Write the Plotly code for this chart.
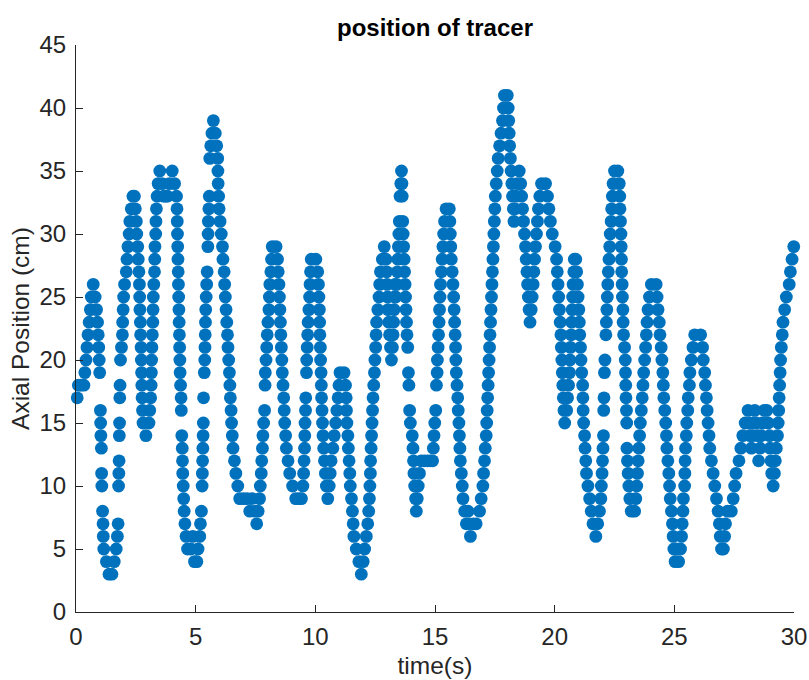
import plotly.graph_objects as go

# ---- data: tracer axial position (cm) vs time (s) ----
t_00_05 = [0.05,0.10,0.20,0.33,0.37,0.42,0.46,0.50,0.55,0.60,0.64,0.72,
           0.80,0.86,0.90,0.93,0.95,0.97,0.99,1.02,1.03,1.04,1.06,1.07,1.08,1.11,1.13,1.14,1.16,1.27,1.38,1.50,
           1.60,1.68,1.73,1.76,1.78,1.79,1.80,1.81,1.82,1.83,1.84,1.86,1.90,1.94,1.95,1.97,1.99,2.03,2.10,2.13,2.17,2.22,2.25,2.31,2.38,
           2.44,2.48,2.52,2.54,2.58,2.60,2.63,2.65,2.66,2.67,2.69,2.70,2.72,2.73,2.74,2.75,2.76,2.78,2.80,2.92,
           3.05,3.08,3.12,3.14,3.15,3.16,3.17,3.19,3.21,3.22,3.23,3.25,3.28,3.29,3.30,3.33,3.34,3.36,3.39,3.43,3.50,
           3.60,3.66,3.74,3.82,3.90,4.02,4.12,4.20,
           4.22,4.23,4.24,4.25,4.26,4.27,4.28,4.29,4.30,4.31,4.32,4.33,4.34,4.35,4.37,4.39,4.40,
           4.42,4.44,4.45,4.46,4.48,4.50,4.52,4.55,4.60,
           4.66,4.80,4.88,4.95,5.05,5.10,5.17,5.20,5.24]
y_00_05 = [17,18,18,18,19,20,21,22,23,24,25,26,
           25,24,23,22,21,20,19,16,15,14,13,11,10,8,7,6,5,4,3,3,
           4,5,6,7,10,11,12,14,15,17,18,20,21,22,23,24,25,26,27,28,29,30,31,32,33,
           33,32,31,30,29,28,27,26,25,24,23,22,21,20,19,18,17,16,15,14,
           15,16,17,18,19,20,21,22,23,24,25,26,27,28,29,30,31,32,33,34,35,
           34,33,33,33,34,35,34,33,
           32,31,30,29,28,27,26,25,24,23,22,21,20,19,18,17,16,
           14,13,12,11,10,9,8,7,6,
           5,5,6,4,4,5,6,7,8]

t_05_10 = [5.27,5.28,5.29,5.30,5.31,5.32,5.33,5.36,5.38,5.39,5.40,5.41,5.42,5.44,5.46,5.48,5.51,5.52,5.53,5.55,5.57,5.59,5.63,5.68,5.74,
           5.82,5.88,5.92,5.93,5.94,5.96,5.98,6.02,6.07,6.12,6.14,6.19,6.21,6.24,6.27,6.30,6.33,6.35,6.38,6.41,6.43,6.45,6.48,6.50,6.53,6.56,6.62,6.68,6.76,6.84,
           7.00,7.15,7.26,7.35,7.48,7.55,7.61,7.67,
           7.70,7.74,7.76,7.79,7.81,7.84,7.88,7.90,7.91,7.94,7.97,7.99,8.02,8.06,8.08,8.10,8.14,8.17,8.20,
           8.36,
           8.42,8.45,8.48,8.50,8.52,8.54,8.56,8.58,8.60,8.62,8.65,8.68,8.70,8.72,8.76,8.79,8.86,8.93,9.05,9.18,9.32,9.42,
           9.48,9.51,9.53,9.55,9.56,9.57,9.59,9.60,9.63,9.64,9.66,9.68,9.70,9.73,9.76,9.78,9.80,9.83]
y_05_10 = [10,11,12,13,14,15,17,19,20,21,22,23,24,25,26,27,29,30,31,32,33,36,37,38,39,
           38,37,36,35,34,33,32,31,30,29,28,27,26,25,24,23,22,21,20,19,18,17,16,15,14,13,12,11,10,9,
           9,9,8,9,8,7,8,9,
           10,11,12,13,14,15,16,18,19,20,21,22,23,24,25,26,27,28,29,
           29,
           28,27,26,25,24,23,22,21,20,19,18,17,16,15,14,13,12,11,10,9,9,9,
           10,11,12,13,14,15,16,17,19,20,21,22,23,24,25,26,27,28]

t_10_15 = [10.02,
           10.10,10.13,10.15,10.17,10.18,10.19,10.21,10.22,10.24,10.25,10.26,10.28,10.30,10.32,10.35,10.38,10.42,10.46,10.52,
           10.58,10.62,10.66,10.73,10.79,10.85,10.90,10.95,10.99,11.03,11.20,
           11.26,11.29,11.30,11.32,11.36,11.38,11.41,11.44,11.46,11.51,11.55,11.58,11.61,11.71,11.82,11.92,
           12.00,12.06,12.13,12.19,12.23,12.26,12.28,12.30,12.31,12.33,12.35,12.37,12.39,12.41,12.44,12.47,12.49,12.52,12.54,12.56,12.61,12.66,12.69,12.72,12.80,12.88,
           12.95,12.98,13.00,13.02,13.04,13.07,13.10,13.14,13.18,13.22,13.25,13.27,13.29,13.31,13.33,13.36,13.40,13.43,13.45,13.47,13.49,13.51,13.54,13.57,13.60,
           13.62,13.63,13.65,13.67,13.69,13.71,13.73,13.75,13.77,13.79,13.81,13.83,13.86,13.89,13.91,13.94,13.97,14.05,14.08,14.10,14.12,14.15,14.19,14.22,
           14.26,14.30,14.35,14.42,14.55,14.68,14.80,14.90]
y_10_15 = [28,
           27,26,25,24,23,22,21,20,19,18,17,16,15,14,13,12,11,10,9,
           10,11,12,13,14,15,16,17,18,19,19,
           18,17,16,15,14,13,12,11,10,9,8,7,6,5,4,3,
           4,5,6,7,8,9,10,11,12,13,14,15,16,17,18,19,20,21,22,23,24,25,26,27,28,29,
           28,27,26,25,24,23,22,21,20,21,22,23,24,25,26,25,26,27,28,29,30,31,33,34,35,
           34,33,31,30,29,28,27,26,25,24,23,22,21,19,18,16,15,14,13,12,11,10,9,8,
           9,10,11,12,12,12,12,12]

t_15_20 = [14.93,14.96,14.99,15.03,15.06,15.09,15.10,15.13,15.15,15.17,15.19,15.21,15.23,15.27,15.30,15.33,15.36,15.40,15.46,15.60,
           15.62,15.64,15.66,15.68,15.72,15.75,15.78,15.80,15.82,15.84,15.86,15.87,15.89,15.92,15.95,15.97,16.00,16.02,16.04,16.06,16.10,16.14,16.17,16.24,16.31,16.38,16.42,16.48,
           16.60,16.72,16.86,16.93,17.00,17.03,17.07,17.10,17.14,17.16,17.18,17.20,17.22,17.24,17.26,17.28,17.30,17.32,17.34,17.36,17.38,17.40,17.42,17.44,17.46,17.48,17.50,17.52,17.56,17.60,17.64,17.70,17.76,17.82,17.86,17.90,
           18.02,18.06,18.08,18.10,18.12,18.15,18.18,18.21,18.24,18.27,18.30,18.35,18.39,18.44,18.52,18.58,18.62,18.66,18.70,18.74,18.78,18.81,18.84,18.87,18.90,18.93,18.97,
           19.02,19.06,19.10,19.13,19.16,19.20,19.24,19.28,19.32,19.38,19.45,
           19.62,19.70,19.76,19.82,19.90,20.02,20.08,20.11,20.14,20.17,20.20,20.23,20.26,20.28,20.30,20.32,20.34,20.36,20.39,20.42]
y_15_20 = [13,14,15,16,18,19,20,21,22,23,24,25,26,27,28,29,30,31,32,32,
           31,30,29,28,27,26,25,24,23,22,21,20,19,18,17,16,15,14,13,12,11,10,9,8,7,8,7,6,
           7,7,8,9,10,11,12,13,14,15,16,17,18,19,20,21,22,23,24,25,26,27,28,29,30,31,32,33,34,35,36,37,38,39,40,41,
           41,40,39,38,37,36,35,34,33,32,31,32,33,34,35,34,33,32,31,30,29,28,27,26,25,24,23,
           24,25,26,27,28,29,30,31,32,33,34,
           34,33,32,31,30,29,28,27,26,25,24,23,22,21,20,19,18,17,16,15]

t_20_25 = [20.50,20.54,20.58,20.62,20.64,20.66,20.69,20.71,20.73,20.75,20.77,20.80,20.82,20.88,
           20.92,20.95,20.98,21.01,21.03,21.05,21.08,21.10,21.13,21.17,21.18,21.19,21.21,21.25,21.27,21.30,21.33,21.39,21.46,21.53,21.60,21.72,
           21.80,21.87,21.93,21.95,21.98,22.00,22.02,22.04,22.05,22.06,22.08,22.10,22.14,22.16,22.18,22.20,22.22,22.24,22.27,22.30,22.32,22.36,22.38,22.41,22.44,22.50,22.64,
           22.70,22.72,22.73,22.75,22.77,22.78,22.79,22.80,22.82,22.83,22.85,22.86,22.88,22.92,22.95,22.96,22.97,22.98,23.00,23.01,23.02,23.04,23.07,23.10,23.14,23.20,
           23.34,23.39,23.43,23.46,23.49,23.52,23.55,23.58,23.62,23.66,23.69,23.72,23.76,23.80,23.83,23.86,23.90,23.96,24.04,24.24,
           24.28,24.32,24.37,24.40,24.45,24.48,24.52,24.54,24.56,24.60,24.64,24.67,24.69,24.73,24.77,24.80,24.83,24.88,24.92,24.95,24.98,25.03]
y_20_25 = [16,17,18,19,20,21,22,23,24,25,26,27,28,28,
           27,26,25,24,23,22,21,20,19,18,17,16,15,14,13,12,11,10,9,8,7,6,
           7,8,9,10,11,12,13,14,16,17,19,20,22,23,24,25,26,27,28,29,30,31,32,33,34,35,35,
           34,33,32,31,30,29,28,27,26,25,24,23,22,21,20,19,18,17,16,15,13,12,11,10,9,8,
           8,9,10,11,12,13,14,15,16,17,18,19,20,21,22,23,24,25,26,26,
           25,24,23,22,21,20,19,18,17,16,15,14,13,12,11,10,9,8,7,6,5,4]

t_25_30 = [25.08,25.18,25.26,25.30,25.33,25.36,25.38,25.43,25.44,25.45,25.47,25.50,25.52,25.56,25.58,25.63,25.65,25.71,25.78,25.85,26.10,
           26.18,26.21,26.27,26.30,26.34,26.37,26.41,26.45,26.48,26.55,26.62,26.69,26.76,26.83,26.88,26.92,26.97,27.05,27.10,27.14,27.22,27.38,27.46,27.52,27.58,27.70,27.78,27.86,27.96,
           28.08,28.12,28.16,28.22,28.26,28.30,28.36,28.42,28.48,28.52,28.58,28.63,28.68,28.76,28.86,28.92,28.98,29.00,29.04,29.07,29.13,29.18,29.22,29.26,29.31,
           29.34,29.36,29.38,29.40,29.42,29.44,29.47,29.51,29.54,29.61,29.68,29.80,29.85,29.92,29.99]
y_25_30 = [5,4,5,6,7,8,9,10,11,12,13,14,15,16,17,18,19,20,21,22,22,
           21,20,19,18,17,16,15,14,13,12,11,10,9,8,7,6,5,5,6,7,8,8,9,10,11,12,13,14,15,
           16,15,14,13,14,15,16,15,14,12,13,14,15,16,16,15,14,13,12,11,10,11,12,13,14,
           15,16,17,18,19,20,21,22,23,24,25,26,27,28,29]

x_ticks = [0, 5, 10, 15, 20, 25, 30]
y_ticks = [0, 5, 10, 15, 20, 25, 30, 35, 40, 45]

time_s = t_00_05 + t_05_10 + t_10_15 + t_15_20 + t_20_25 + t_25_30
position_cm = y_00_05 + y_05_10 + y_10_15 + y_15_20 + y_20_25 + y_25_30

AX = "#262626"
FONT = "Liberation Sans, Arial, Helvetica, sans-serif"

fig = go.Figure(go.Scatter(
    x=time_s, y=position_cm, mode="markers",
    marker=dict(size=12.8, color="#0072BD", line=dict(width=0)),
    cliponaxis=False, hoverinfo="x+y"))

fig.update_layout(
    width=809, height=680,
    margin=dict(l=76, r=15, t=45, b=68),
    paper_bgcolor="white", plot_bgcolor="white",
    font=dict(family=FONT, size=24, color=AX),
    showlegend=False,
    title=dict(text="<b>position of tracer</b>", x=0.5, xref="paper", xanchor="center",
               y=1 - 28 / 680, yref="container", yanchor="middle",
               font=dict(family=FONT, size=24, color="black")),
)
fig.update_xaxes(range=[0, 30], tickvals=x_ticks, ticktext=[str(v) for v in x_ticks],
                 ticks="inside", ticklen=7, tickwidth=1, tickcolor=AX,
                 showline=True, linecolor=AX, linewidth=1, mirror=False,
                 showgrid=False, zeroline=False, ticklabelstandoff=3, automargin=False,
                 tickfont=dict(size=24),
                 title=dict(text="time(s)", font=dict(size=24.5, color=AX), standoff=8))
fig.update_yaxes(range=[0, 45], tickvals=y_ticks, ticktext=[str(v) for v in y_ticks],
                 ticks="inside", ticklen=7, tickwidth=1, tickcolor=AX,
                 showline=True, linecolor=AX, linewidth=1, mirror=False,
                 showgrid=False, zeroline=False, ticklabelstandoff=4, automargin=False,
                 tickfont=dict(size=24),
                 title=dict(text="Axial Position (cm)", font=dict(size=24.5, color=AX), standoff=2))

fig.write_html("out.html")
